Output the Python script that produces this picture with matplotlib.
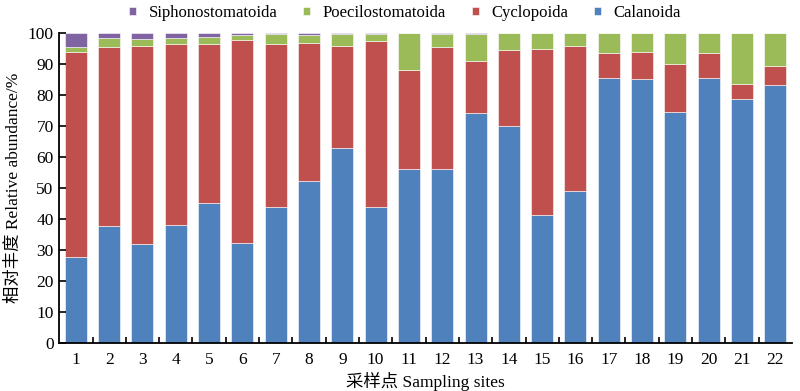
import numpy as np
import matplotlib
matplotlib.use("Agg")
import matplotlib.pyplot as plt

# site numbers
sites = [str(i) for i in range(1, 23)]

# relative abundance (%) per order
calanoida = [27.7, 37.8, 31.9, 38.1, 45.3, 32.4, 43.8, 52.3, 63.0, 43.9, 56.3,
             56.2, 74.4, 70.1, 41.5, 49.1, 85.7, 85.2, 74.5, 85.5, 78.7, 83.3]
cyclopoida = [66.4, 57.9, 64.0, 58.4, 51.2, 65.4, 52.7, 44.5, 33.0, 53.6, 31.9,
              39.3, 16.7, 24.5, 53.5, 46.9, 7.8, 8.9, 15.6, 8.2, 4.9, 6.1]
poecilostomatoida = [1.3, 2.7, 2.2, 2.0, 2.4, 1.6, 3.1, 2.6, 3.7, 2.2, 11.8,
                     4.2, 8.6, 5.4, 5.0, 4.0, 6.5, 5.9, 9.9, 6.3, 16.4, 10.6]
siphonostomatoida = [4.6, 1.6, 1.9, 1.5, 1.1, 0.6, 0.4, 0.6, 0.3, 0.3, 0.0,
                     0.3, 0.3, 0.0, 0.0, 0.0, 0.0, 0.0, 0.0, 0.0, 0.0, 0.0]

colors = {"Calanoida": "#4F81BD", "Cyclopoida": "#C0504D",
          "Poecilostomatoida": "#9BBB59", "Siphonostomatoida": "#8064A2"}

plt.rcParams["font.family"] = ["Liberation Serif", "Noto Sans CJK SC"]
plt.rcParams["font.size"] = 12.5

fig = plt.figure(figsize=(8, 3.91), dpi=100)
ax = fig.add_axes([0.074, 0.122, 0.916, 0.793])

x = np.arange(len(sites))
w = 0.66
series = [("Calanoida", calanoida), ("Cyclopoida", cyclopoida),
          ("Poecilostomatoida", poecilostomatoida),
          ("Siphonostomatoida", siphonostomatoida)]
bottom = np.zeros(len(sites))
handles = {}
for name, vals in series:
    vals = np.array(vals)
    b = ax.bar(x, vals, w, bottom=bottom, color=colors[name],
               edgecolor="white", linewidth=0.4, label=name)
    handles[name] = b
    bottom += vals

ax.set_xlim(-0.5, len(sites) - 0.5)
ax.set_ylim(0, 100)
ax.set_yticks(range(0, 101, 10))
ax.set_xticks(x)
ax.set_xticklabels(sites)
ax.set_xticks(np.arange(0.5, len(sites) - 1, 1), minor=True)
ax.tick_params(axis="x", which="major", length=0, pad=6)
ax.tick_params(axis="x", which="minor", direction="in", length=4, width=1.2)
ax.tick_params(axis="y", direction="in", length=5, width=1.2, pad=4)

for s in ["top", "right"]:
    ax.spines[s].set_visible(False)
for s in ["left", "bottom"]:
    ax.spines[s].set_linewidth(1.3)

ax.set_ylabel("相对丰度 Relative abundance/%", labelpad=4)
ax.set_xlabel("采样点 Sampling sites", labelpad=3)

# legend on top
order = ["Siphonostomatoida", "Poecilostomatoida", "Cyclopoida", "Calanoida"]
fig.legend([handles[n] for n in order], order, loc="center",
           bbox_to_anchor=(0.506, 0.967), ncol=4, frameon=False, fontsize=12,
           handlelength=0.42, handleheight=0.42, handletextpad=0.75,
           columnspacing=1.55)

fig.savefig("out.png", dpi=100)
